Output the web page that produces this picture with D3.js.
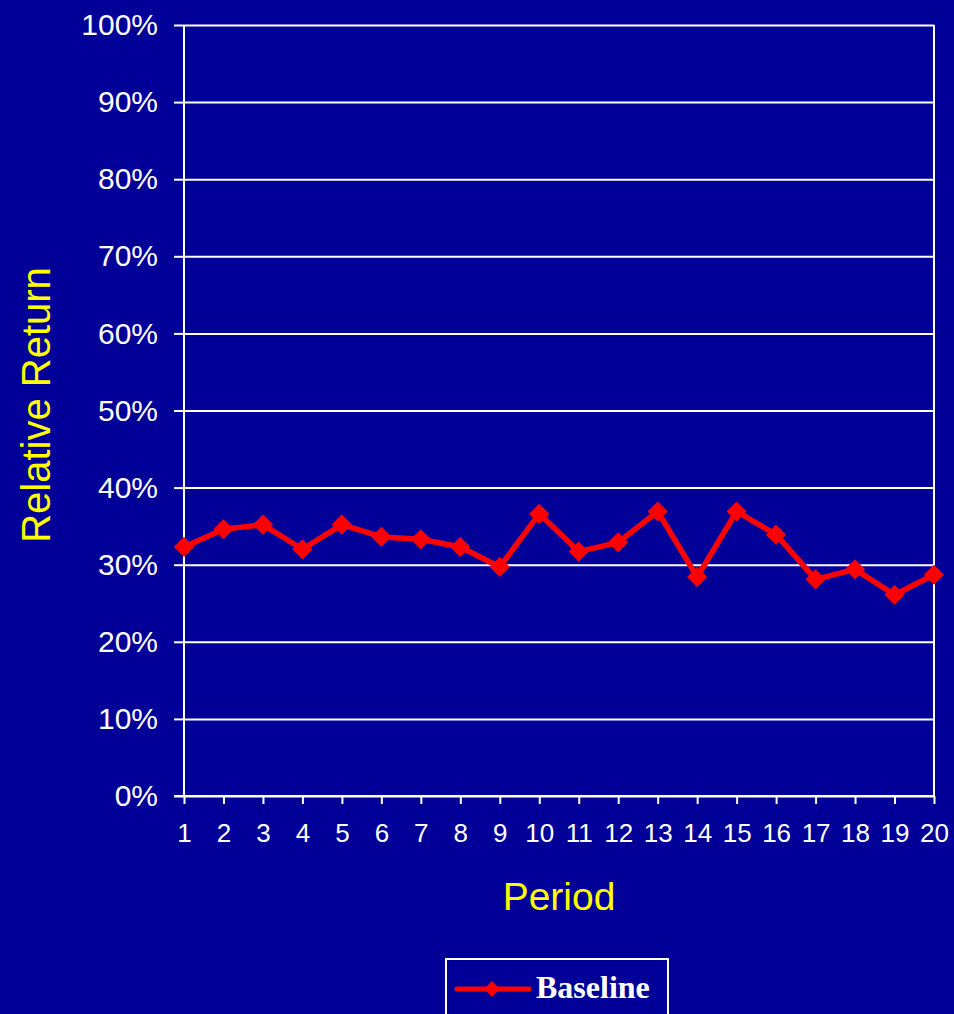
<!DOCTYPE html>
<html>
<head>
<meta charset="utf-8">
<script src="https://cdn.jsdelivr.net/npm/d3@7"></script>
<style>
  html, body { margin: 0; padding: 0; background: #000099; }
  svg { display: block; }
</style>
</head>
<body>
<div id="chart"></div>
<script>
// data
var periods = ["1","2","3","4","5","6","7","8","9","10","11","12","13","14","15","16","17","18","19","20"];
var baseline = [32.3, 34.6, 35.2, 32.0, 35.2, 33.6, 33.3, 32.3, 29.7, 36.6, 31.7, 32.9, 36.9, 28.4, 36.9, 33.9, 28.1, 29.4, 26.1, 28.7];
var yTicks = [0, 10, 20, 30, 40, 50, 60, 70, 80, 90, 100];
var seriesName = "Baseline";

var width = 954, height = 1014;
var margin = { top: 25, right: 20, bottom: 218, left: 184 };
var w = width - margin.left - margin.right,
    h = height - margin.top - margin.bottom;

var svg = d3.select("#chart")
    .append("svg")
    .attr("width", width)
    .attr("height", height);

svg.append("rect")
    .attr("width", width)
    .attr("height", height)
    .style("fill", "#000099");

var g = svg.append("g")
    .attr("transform", "translate(" + margin.left + "," + margin.top + ")");

var x = d3.scalePoint()
    .domain(periods)
    .range([0, w]);

var y = d3.scaleLinear()
    .domain([0, 100])
    .range([h, 0]);

// horizontal grid
g.append("g")
    .attr("class", "grid")
    .call(d3.axisLeft(y).tickValues(yTicks).tickSize(-w).tickFormat(""))
    .call(function (s) {
        s.select(".domain").remove();
        s.selectAll("line").style("stroke", "#ffffff").style("stroke-width", 2);
    });

// right border
g.append("line")
    .attr("x1", w).attr("x2", w)
    .attr("y1", 0).attr("y2", h)
    .style("stroke", "#ffffff")
    .style("stroke-width", 2);

// y axis
g.append("g")
    .call(d3.axisLeft(y).tickValues(yTicks).tickSize(10).tickPadding(16).tickFormat(function (d) { return d + "%"; }))
    .call(function (s) {
        s.select(".domain").attr("d", "M0," + h + "V0").style("stroke", "#ffffff").style("stroke-width", 2);
        s.selectAll("line").style("stroke", "#ffffff").style("stroke-width", 2);
        s.selectAll("text")
            .style("fill", "#ffffff")
            .style("font-family", "Liberation Sans, Arial, sans-serif")
            .style("font-size", "30px");
    });

// x axis
g.append("g")
    .attr("transform", "translate(0," + h + ")")
    .call(d3.axisBottom(x).tickSize(8).tickPadding(20))
    .call(function (s) {
        s.select(".domain").attr("d", "M-10,0H" + w).style("stroke", "#ffffff").style("stroke-width", 2);
        s.selectAll("line").style("stroke", "#ffffff").style("stroke-width", 2);
        s.selectAll("text")
            .style("fill", "#ffffff")
            .style("font-family", "Liberation Sans, Arial, sans-serif")
            .style("font-size", "26px");
    });

// axis titles
svg.append("text")
    .attr("x", 559)
    .attr("y", 910)
    .attr("text-anchor", "middle")
    .text("Period")
    .style("fill", "#ffff00")
    .style("font-family", "Liberation Sans, Arial, sans-serif")
    .style("font-size", "39px");

svg.append("text")
    .attr("transform", "translate(50,405) rotate(-90)")
    .attr("text-anchor", "middle")
    .text("Relative Return")
    .style("fill", "#ffff00")
    .style("font-family", "Liberation Sans, Arial, sans-serif")
    .style("font-size", "40px");

// series line
var line = d3.line()
    .x(function (d, i) { return x(periods[i]); })
    .y(function (d) { return y(d); });

g.append("path")
    .datum(baseline)
    .attr("d", line)
    .style("fill", "none")
    .style("stroke", "#ff0000")
    .style("stroke-width", 5.5)
    .style("stroke-linejoin", "round");

var diamond = d3.symbol().type(d3.symbolDiamond2).size(260);

g.selectAll(".pt")
    .data(baseline)
    .enter()
    .append("path")
    .attr("class", "pt")
    .attr("transform", function (d, i) { return "translate(" + x(periods[i]) + "," + y(d) + ")"; })
    .attr("d", diamond)
    .style("fill", "#ff0000");

// legend
var legend = svg.append("g")
    .attr("class", "legend")
    .attr("transform", "translate(446,959)");

legend.append("rect")
    .attr("x", 0)
    .attr("y", 0)
    .attr("width", 222)
    .attr("height", 70)
    .style("fill", "none")
    .style("stroke", "#ffffff")
    .style("stroke-width", 2);

legend.append("line")
    .attr("x1", 11).attr("x2", 83)
    .attr("y1", 30).attr("y2", 30)
    .style("stroke", "#ff0000")
    .style("stroke-width", 5)
    .style("stroke-linecap", "round");

legend.append("path")
    .attr("transform", "translate(46,30)")
    .attr("d", d3.symbol().type(d3.symbolDiamond2).size(160))
    .style("fill", "#ff0000");

legend.append("text")
    .attr("x", 90)
    .attr("y", 39)
    .text(seriesName)
    .style("fill", "#ffffff")
    .style("font-family", "Liberation Serif, Times New Roman, serif")
    .style("font-weight", "bold")
    .style("font-size", "32px");
</script>
</body>
</html>
